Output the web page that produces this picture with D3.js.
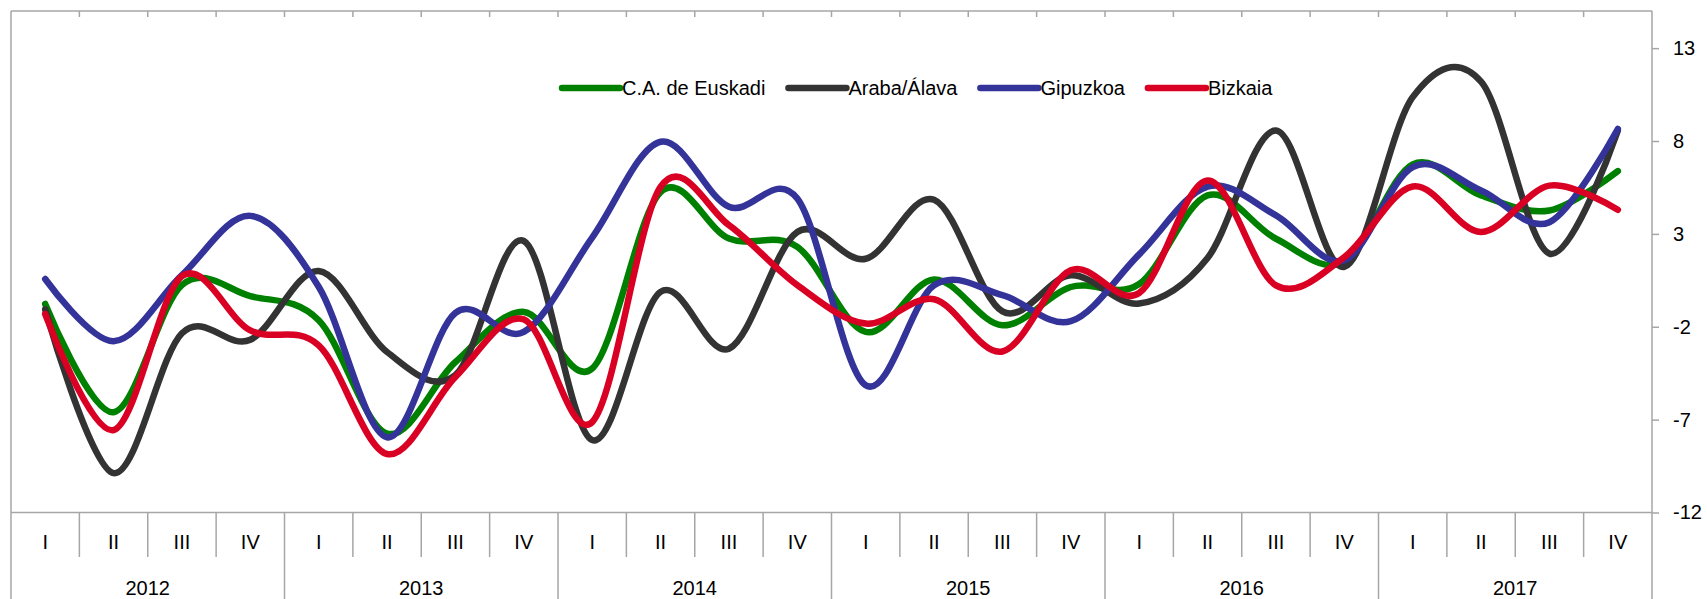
<!DOCTYPE html>
<html>
<head>
<meta charset="utf-8">
<script src="https://cdn.jsdelivr.net/npm/d3@7"></script>
<style>
  html, body { margin: 0; padding: 0; background: #fff; }
  svg { display: block; }
  text { font-family: "Liberation Sans", Arial, sans-serif; fill: #000; }
</style>
</head>
<body>
<svg id="chart" width="1707" height="599"></svg>
<script>
// ---- data ----
const years = ["2012", "2013", "2014", "2015", "2016", "2017"];
const quarters = ["I", "II", "III", "IV"];
const yTicks = [-12, -7, -2, 3, 8, 13];

const seriesNames = ["C.A. de Euskadi", "Araba/Álava", "Gipuzkoa", "Bizkaia"];
const seriesColors = ["#008000", "#333333", "#333399", "#d90024"];

const euskadi = [-0.77, -6.6, 0.25, -0.35, -1.65, -7.75, -3.9, -1.2, -4.25, 5.25, 2.75, 2.3,
                 -2.28, 0.55, -1.92, 0.14, 0.3, 5.07, 2.74, 1.5, 6.74, 5.07, 4.26, 6.38];
const araba   = [-1.07, -9.88, -2.35, -2.7, 1.0, -3.36, -4.6, 2.62, -8.1, -0.12, -3.18, 3.1,
                 1.66, 4.84, -1.17, 0.77, -0.75, 1.7, 8.56, 1.22, 10.36, 11.2, 1.94, 8.56];
const gipuzkoa= [0.57, -2.78, 0.78, 3.97, 0.15, -7.95, -1.25, -2.28, 2.8, 7.96, 4.46, 4.9,
                 -5.15, 0.23, -0.3, -1.7, 1.9, 5.55, 4.0, 1.58, 6.6, 5.34, 3.63, 8.65];
const bizkaia = [-1.32, -7.56, 0.72, -2.2, -3.0, -8.85, -4.7, -1.6, -7.13, 5.53, 3.47, 0.24,
                 -1.83, -0.52, -3.33, 1.04, -0.18, 5.88, 0.23, 1.75, 5.55, 3.1, 5.6, 4.3];
const seriesValues = [euskadi, araba, gipuzkoa, bizkaia];

// ---- layout ----
const W = 1707, H = 599;
const plot = { left: 11, right: 1652, top: 11, bottom: 512.5 };
const axisColor = "#a6a6a6";

const cats = [];
years.forEach(y => quarters.forEach(q => cats.push(y + "-" + q)));

const x = d3.scaleBand().domain(cats).range([plot.left, plot.right]).paddingInner(0).paddingOuter(0);
const y = d3.scaleLinear().domain([-12, 15]).range([plot.bottom, plot.top]);

const svg = d3.select("#chart");

// plot frame (left and top)
svg.append("line").attr("x1", plot.left).attr("x2", plot.left).attr("y1", plot.top).attr("y2", H)
  .attr("stroke", axisColor).attr("stroke-width", 1.5);
svg.append("line").attr("x1", plot.left).attr("x2", plot.right).attr("y1", plot.top).attr("y2", plot.top)
  .attr("stroke", axisColor).attr("stroke-width", 1.5);
// bottom axis line
svg.append("line").attr("x1", plot.left).attr("x2", plot.right).attr("y1", plot.bottom).attr("y2", plot.bottom)
  .attr("stroke", axisColor).attr("stroke-width", 1.5);

// top inner ticks at category boundaries
const bw = x.bandwidth();
cats.slice(1).forEach(c => {
  svg.append("line").attr("x1", x(c)).attr("x2", x(c)).attr("y1", plot.top).attr("y2", plot.top + 6)
    .attr("stroke", axisColor).attr("stroke-width", 1.5);
});

// right axis
const yAxis = d3.axisRight(y).tickValues(yTicks).tickSize(7).tickPadding(14).tickFormat(d => String(d));
const yg = svg.append("g").attr("transform", `translate(${plot.right},0)`).call(yAxis);
yg.select(".domain").remove();
yg.selectAll(".tick line").attr("stroke", axisColor).attr("stroke-width", 1.5);
yg.selectAll(".tick text").style("font-size", "20px").style("font-family", "'Liberation Sans', Arial, sans-serif").attr("fill", "#000");
svg.append("line").attr("x1", plot.right).attr("x2", plot.right).attr("y1", plot.top).attr("y2", H)
  .attr("stroke", axisColor).attr("stroke-width", 1.5);

// bottom category axis: quarters
cats.forEach((c, i) => {
  const qi = i % 4;
  svg.append("text").attr("x", x(c) + bw / 2).attr("y", 549)
    .attr("text-anchor", "middle").style("font-size", "20px").text(quarters[qi]);
  if (i > 0) {
    const yEnd = qi === 0 ? H : 557;
    svg.append("line").attr("x1", x(c)).attr("x2", x(c)).attr("y1", plot.bottom).attr("y2", yEnd)
      .attr("stroke", axisColor).attr("stroke-width", 1.5);
  }
});
years.forEach((yr, i) => {
  const x0 = x(yr + "-I"), x1 = x(yr + "-IV") + bw;
  svg.append("text").attr("x", (x0 + x1) / 2).attr("y", 595)
    .attr("text-anchor", "middle").style("font-size", "20px").text(yr);
});

// lines
const line = d3.line()
  .x((d, i) => x(cats[i]) + bw / 2)
  .y(d => y(d))
  .curve(d3.curveCatmullRom.alpha(0));

seriesValues.forEach((vals, si) => {
  svg.append("path").datum(vals)
    .attr("d", line)
    .attr("fill", "none")
    .attr("stroke", seriesColors[si])
    .attr("stroke-width", 6.5)
    .attr("stroke-linecap", "round")
    .attr("stroke-linejoin", "round");
});

// legend
const legendY = 88;
let lx = 562;
seriesNames.forEach((name, si) => {
  svg.append("line").attr("x1", lx).attr("x2", lx + 58).attr("y1", legendY).attr("y2", legendY)
    .attr("stroke", seriesColors[si]).attr("stroke-width", 6.5).attr("stroke-linecap", "round");
  const t = svg.append("text").attr("x", lx + 60).attr("y", legendY + 7)
    .style("font-size", "20px").text(name);
  const w = t.node().getComputedTextLength();
  lx = lx + 60 + w + 23;
});
</script>
</body>
</html>
